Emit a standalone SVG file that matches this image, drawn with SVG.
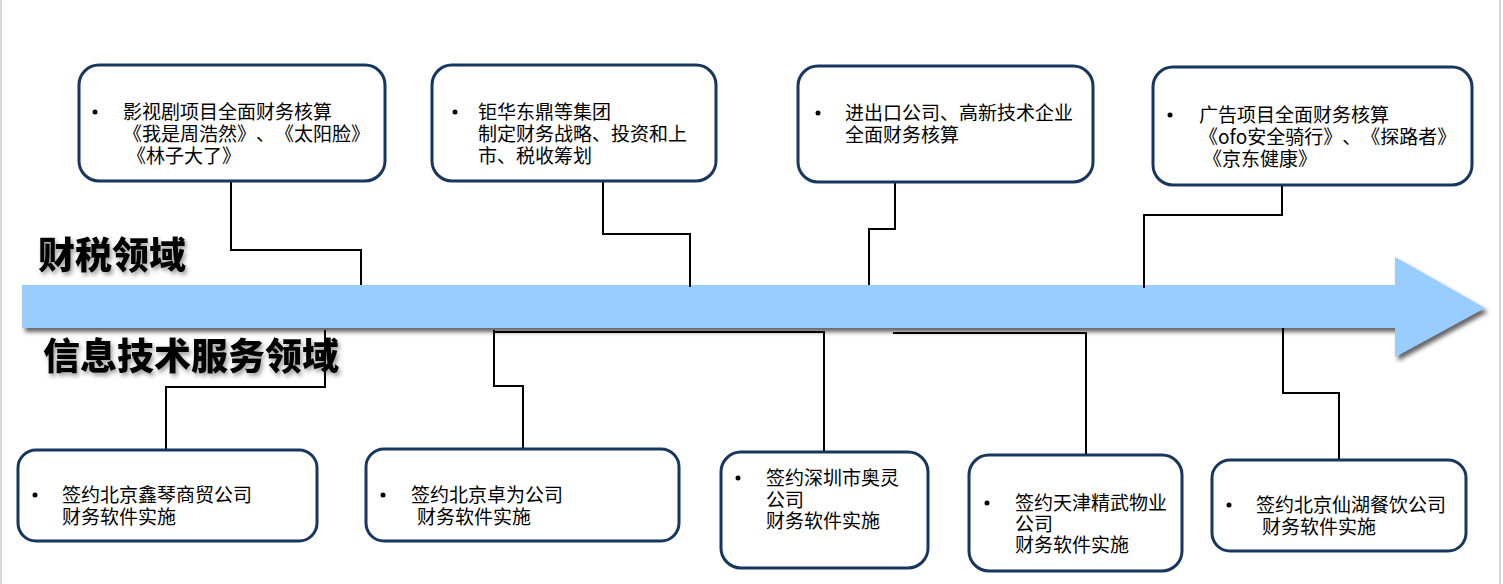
<svg xmlns="http://www.w3.org/2000/svg" width="1503" height="584" viewBox="0 0 1503 584">
<defs>
<filter id="arrowShadow" x="-5%" y="-30%" width="110%" height="170%">
<feDropShadow dx="3" dy="4" stdDeviation="2" flood-color="#303030" flood-opacity="0.75"/>
</filter>
<filter id="textShadow" x="-10%" y="-30%" width="120%" height="170%">
<feDropShadow dx="2" dy="3" stdDeviation="2" flood-color="#606060" flood-opacity="0.6"/>
</filter>
</defs>
<style>
.box{fill:#FFFFFF;stroke:#17375E;stroke-width:3}
.t{font-family:"Noto Sans CJK SC","Liberation Sans",sans-serif;font-size:19px;fill:#000000;text-spacing-trim:space-all;font-feature-settings:"halt" 0,"chws" 0,"palt" 0;font-kerning:none}
.bul{fill:#000000}
.lbl{font-family:"Noto Sans CJK SC","Liberation Sans",sans-serif;font-size:37px;font-weight:900;fill:#000000}
.con{fill:none;stroke:#000000;stroke-width:2}
.edge{stroke:#C8C8C8;stroke-width:1.5}
</style>
<rect x="0" y="0" width="1503" height="584" fill="#FFFFFF"/>
<line class="edge" x1="1" y1="0" x2="1" y2="584"/>
<line class="edge" x1="1500" y1="0" x2="1500" y2="584"/>

<g id="axis">
<polygon points="22,285 1395,285 1395,257 1485,308 1395,357 1395,328 22,328" fill="#99CCFF" filter="url(#arrowShadow)"/>
</g>

<g id="label-top">
<text class="lbl" x="38" y="269" filter="url(#textShadow)">财税领域</text>
</g>
<g id="label-bottom">
<text class="lbl" x="43" y="370" filter="url(#textShadow)">信息技术服务领域</text>
</g>

<g id="connectors">
<polyline class="con" points="231,181 231,250 361,250 361,285"/>
<polyline class="con" points="603,181 603,234 690,234 690,287"/>
<polyline class="con" points="895,182 895,229 869,229 869,285"/>
<polyline class="con" points="1282,185 1282,215 1144,215 1144,288"/>
<polyline class="con" points="325,330 325,387 166,387 166,450"/>
<polyline class="con" points="494,330 494,386 523,386 523,449"/>
<polyline class="con" points="494,332 824,332 824,452"/>
<polyline class="con" points="893,333 1086,333 1086,455"/>
<polyline class="con" points="1283,328 1283,393 1339,393 1339,460"/>
</g>

<g id="top1">
<rect class="box" x="79" y="65" width="306" height="116" rx="20"/>
<circle class="bul" cx="95" cy="112" r="2.5"/>
<text class="t" x="123" y="119">影视剧项目全面财务核算</text>
<text class="t" x="123" y="141">《我是周浩然》、《太阳脸》</text>
<text class="t" x="127" y="163">《林子大了》</text>
</g>
<g id="top2">
<rect class="box" x="432" y="65" width="284" height="116" rx="20"/>
<circle class="bul" cx="455" cy="112" r="2.5"/>
<text class="t" x="478" y="119">钜华东鼎等集团</text>
<text class="t" x="478" y="141">制定财务战略、投资和上</text>
<text class="t" x="478" y="163">市、税收筹划</text>
</g>
<g id="top3">
<rect class="box" x="798" y="66" width="295" height="116" rx="20"/>
<circle class="bul" cx="818" cy="113" r="2.5"/>
<text class="t" x="845" y="120">进出口公司、高新技术企业</text>
<text class="t" x="845" y="142">全面财务核算</text>
</g>
<g id="top4">
<rect class="box" x="1153" y="67" width="319" height="118" rx="20"/>
<circle class="bul" cx="1170" cy="115" r="2.5"/>
<text class="t" x="1199" y="122">广告项目全面财务核算</text>
<text class="t" x="1199" y="144">《ofo安全骑行》、《探路者》</text>
<text class="t" x="1203" y="166">《京东健康》</text>
</g>

<g id="bottom1">
<rect class="box" x="18" y="450" width="299" height="91" rx="18"/>
<circle class="bul" cx="35" cy="495" r="2.5"/>
<text class="t" x="62" y="502">签约北京鑫琴商贸公司</text>
<text class="t" x="62" y="524">财务软件实施</text>
</g>
<g id="bottom2">
<rect class="box" x="366" y="449" width="313" height="92" rx="18"/>
<circle class="bul" cx="383" cy="495" r="2.5"/>
<text class="t" x="411" y="502">签约北京卓为公司</text>
<text class="t" x="417" y="524">财务软件实施</text>
</g>
<g id="bottom3">
<rect class="box" x="721" y="452" width="207" height="116" rx="20"/>
<circle class="bul" cx="738" cy="478" r="2.5"/>
<text class="t" x="766" y="485">签约深圳市奥灵</text>
<text class="t" x="766" y="507">公司</text>
<text class="t" x="766" y="528">财务软件实施</text>
</g>
<g id="bottom4">
<rect class="box" x="969" y="455" width="213" height="116" rx="20"/>
<circle class="bul" cx="987" cy="503" r="2.5"/>
<text class="t" x="1015" y="510">签约天津精武物业</text>
<text class="t" x="1015" y="531">公司</text>
<text class="t" x="1015" y="552">财务软件实施</text>
</g>
<g id="bottom5">
<rect class="box" x="1212" y="460" width="254" height="91" rx="18"/>
<circle class="bul" cx="1229" cy="505" r="2.5"/>
<text class="t" x="1256" y="512">签约北京仙湖餐饮公司</text>
<text class="t" x="1262" y="534">财务软件实施</text>
</g>
</svg>
